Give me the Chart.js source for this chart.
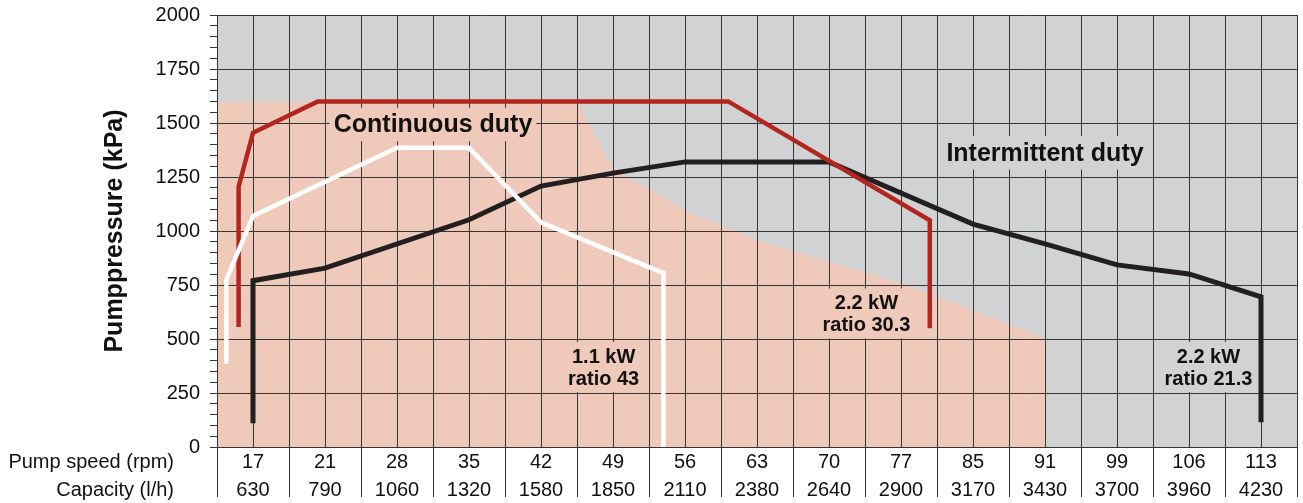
<!DOCTYPE html>
<html lang="en">
  <head>
    <meta charset="UTF-8" />
    <title>Pump capacity chart</title>
    <script src="https://cdn.jsdelivr.net/npm/chart.js"></script>
    <style>
      html,
      body {
        margin: 0;
        padding: 0;
        background: #fff;
      }
      .chart-box {
        width: 1303px;
        height: 503px;
        position: relative;
      }
    </style>
  </head>
  <body>
    <div class="chart-box">
      <canvas id="pumpChart"></canvas>
    </div>

    <script>
      // table under the chart (one column per category)
      const pumpSpeed = ["17", "21", "28", "35", "42", "49", "56", "63", "70", "77", "85", "91", "99", "106", "113"];
      const capacity = ["630", "790", "1060", "1320", "1580", "1850", "2110", "2380", "2640", "2900", "3170", "3430", "3700", "3960", "4230"];

      // x is in column units: column i is centred on i + 0.5
      const continuousX = [0, 5.0, 5.5, 6.57, 7.5, 8.5, 9.5, 11.5, 11.5];
      const continuousP = [1600, 1600, 1290, 1083, 958, 856, 759, 505, 0];

      const intermittentX = [0, 15];
      const intermittentP = [2000, 2000];

      // 1.1 kW ratio 43
      const whiteX = [0.13, 0.13, 0.5, 2.5, 3.5, 4.5, 6.2, 6.2];
      const whiteP = [385, 775, 1070, 1385, 1385, 1040, 805, 0];

      // 2.2 kW ratio 30.3
      const redX = [0.3, 0.3, 0.5, 1.4, 7.1, 9.9, 9.9];
      const redP = [555, 1205, 1455, 1600, 1600, 1050, 550];

      // 2.2 kW ratio 21.3
      const blackX = [0.5, 0.5, 1.5, 3.5, 4.5, 5.5, 6.5, 8.5, 10.5, 11.5, 12.5, 13.5, 14.5, 14.5];
      const blackP = [110, 770, 828, 1052, 1208, 1268, 1320, 1320, 1032, 940, 843, 801, 695, 115];

      const FONT = "'Liberation Sans', Arial, Helvetica, sans-serif";
      const GRID = "#353535";
      const SALMON = "#efc9ba";
      const GREY = "#d1d2d4";

      // text labels inside the plot
      const notes = [
        { lines: ["Continuous duty"], x: 3.0, p: 1493, size: 25, bg: SALMON },
        { lines: ["Intermittent duty"], x: 11.5, p: 1362, size: 25, bg: GREY },
        { lines: ["1.1 kW", "ratio 43"], x: 5.37, p: 370, size: 20, bg: SALMON },
        { lines: ["2.2 kW", "ratio 30.3"], x: 9.02, p: 618, size: 20, bg: SALMON },
        { lines: ["2.2 kW", "ratio 21.3"], x: 13.77, p: 370, size: 20, bg: GREY },
      ];

      function toPoints(xs, ys) {
        return xs.map((x, i) => ({ x: x, y: ys[i] }));
      }

      function curve(xs, ys, color, width) {
        return {
          data: toPoints(xs, ys),
          borderColor: color,
          borderWidth: width,
          pointRadius: 0,
          fill: false,
          tension: 0,
        };
      }

      function area(xs, ys, color) {
        return {
          data: toPoints(xs, ys),
          borderColor: "rgba(0,0,0,0)",
          borderWidth: 0,
          backgroundColor: color,
          pointRadius: 0,
          fill: "origin",
          tension: 0,
        };
      }

      const notesPlugin = {
        id: "notes",
        afterDatasetsDraw(chart) {
          const ctx = chart.ctx;
          const xs = chart.scales.x;
          const ys = chart.scales.y;
          ctx.save();
          notes.forEach((n) => {
            const lh = n.size * 1.1;
            ctx.font = "bold " + n.size + "px " + FONT;
            const w = Math.max(...n.lines.map((t) => ctx.measureText(t).width));
            const h = lh * n.lines.length;
            const cx = xs.getPixelForValue(n.x);
            const cy = ys.getPixelForValue(n.p);
            ctx.fillStyle = n.bg;
            ctx.fillRect(cx - w / 2 - 4, cy - h / 2 - 3, w + 8, h + 6);
            ctx.fillStyle = "#111";
            ctx.textAlign = "center";
            ctx.textBaseline = "middle";
            n.lines.forEach((t, i) => {
              ctx.fillText(t, cx, cy - h / 2 + lh * (i + 0.5) + 1);
            });
          });
          ctx.restore();
        },
        afterDraw(chart) {
          // row captions of the table
          const ctx = chart.ctx;
          const a = chart.chartArea;
          ctx.save();
          ctx.font = "20px " + FONT;
          ctx.fillStyle = "#111";
          ctx.textAlign = "right";
          ctx.textBaseline = "middle";
          ctx.fillText("Pump speed (rpm)", a.left - 43, a.bottom + 15);
          ctx.fillText("Capacity (l/h)", a.left - 43, a.bottom + 43);
          ctx.restore();
        },
      };

      new Chart(document.getElementById("pumpChart"), {
        type: "line",
        data: {
          labels: pumpSpeed,
          datasets: [
            curve(whiteX, whiteP, "#ffffff", 4.5),
            curve(redX, redP, "#b4261d", 4.5),
            curve(blackX, blackP, "#231f20", 5),
            area(continuousX, continuousP, SALMON),
            area(intermittentX, intermittentP, GREY),
          ],
        },
        options: {
          responsive: true,
          maintainAspectRatio: false,
          animation: false,
          events: [],
          layout: { padding: { top: 15, right: 6, bottom: 0, left: 0 } },
          plugins: {
            legend: { display: false },
            tooltip: { enabled: false },
            filler: { drawTime: "beforeDraw" },
          },
          scales: {
            x: {
              type: "linear",
              position: "bottom",
              min: 0,
              max: 15,
              ticks: { display: false, stepSize: 0.5, maxTicksLimit: 100 },
              grid: { color: GRID, lineWidth: 1, drawTicks: false },
              border: { display: false },
              afterFit: (s) => {
                s.height = 0;
              },
            },
            xcat: {
              type: "category",
              position: "bottom",
              offset: true,
              grid: {
                offset: true,
                drawOnChartArea: false,
                color: GRID,
                tickLength: 50,
              },
              border: { color: GRID },
              ticks: {
                autoSkip: false,
                maxRotation: 0,
                padding: -49,
                color: "#111",
                font: { family: FONT, size: 20, lineHeight: 1.4 },
                callback: (v, i) => [pumpSpeed[i], capacity[i]],
              },
              afterFit: (s) => {
                s.height = 56;
                s.paddingLeft = 0;
                s.paddingRight = 0;
              },
            },
            y: {
              type: "linear",
              min: 0,
              max: 2000,
              ticks: {
                stepSize: 50,
                autoSkip: false,
                maxTicksLimit: 100,
                padding: 10,
                color: "#111",
                font: { family: FONT, size: 20 },
                callback: (v) => (v % 250 === 0 ? String(v) : ""),
              },
              grid: {
                color: (c) => (c.tick && c.tick.value % 250 === 0 ? GRID : "rgba(0,0,0,0)"),
                tickColor: GRID,
                tickLength: 7,
              },
              border: { color: GRID },
              title: {
                display: true,
                text: "Pumppressure (kPa)",
                color: "#111",
                font: { family: FONT, size: 25, weight: "bold" },
                padding: { top: 100, bottom: 0 },
              },
              afterFit: (s) => {
                s.width = 217;
                s.paddingTop = 0;
                s.paddingBottom = 0;
              },
            },
          },
        },
        plugins: [notesPlugin],
      });
    </script>
  </body>
</html>
